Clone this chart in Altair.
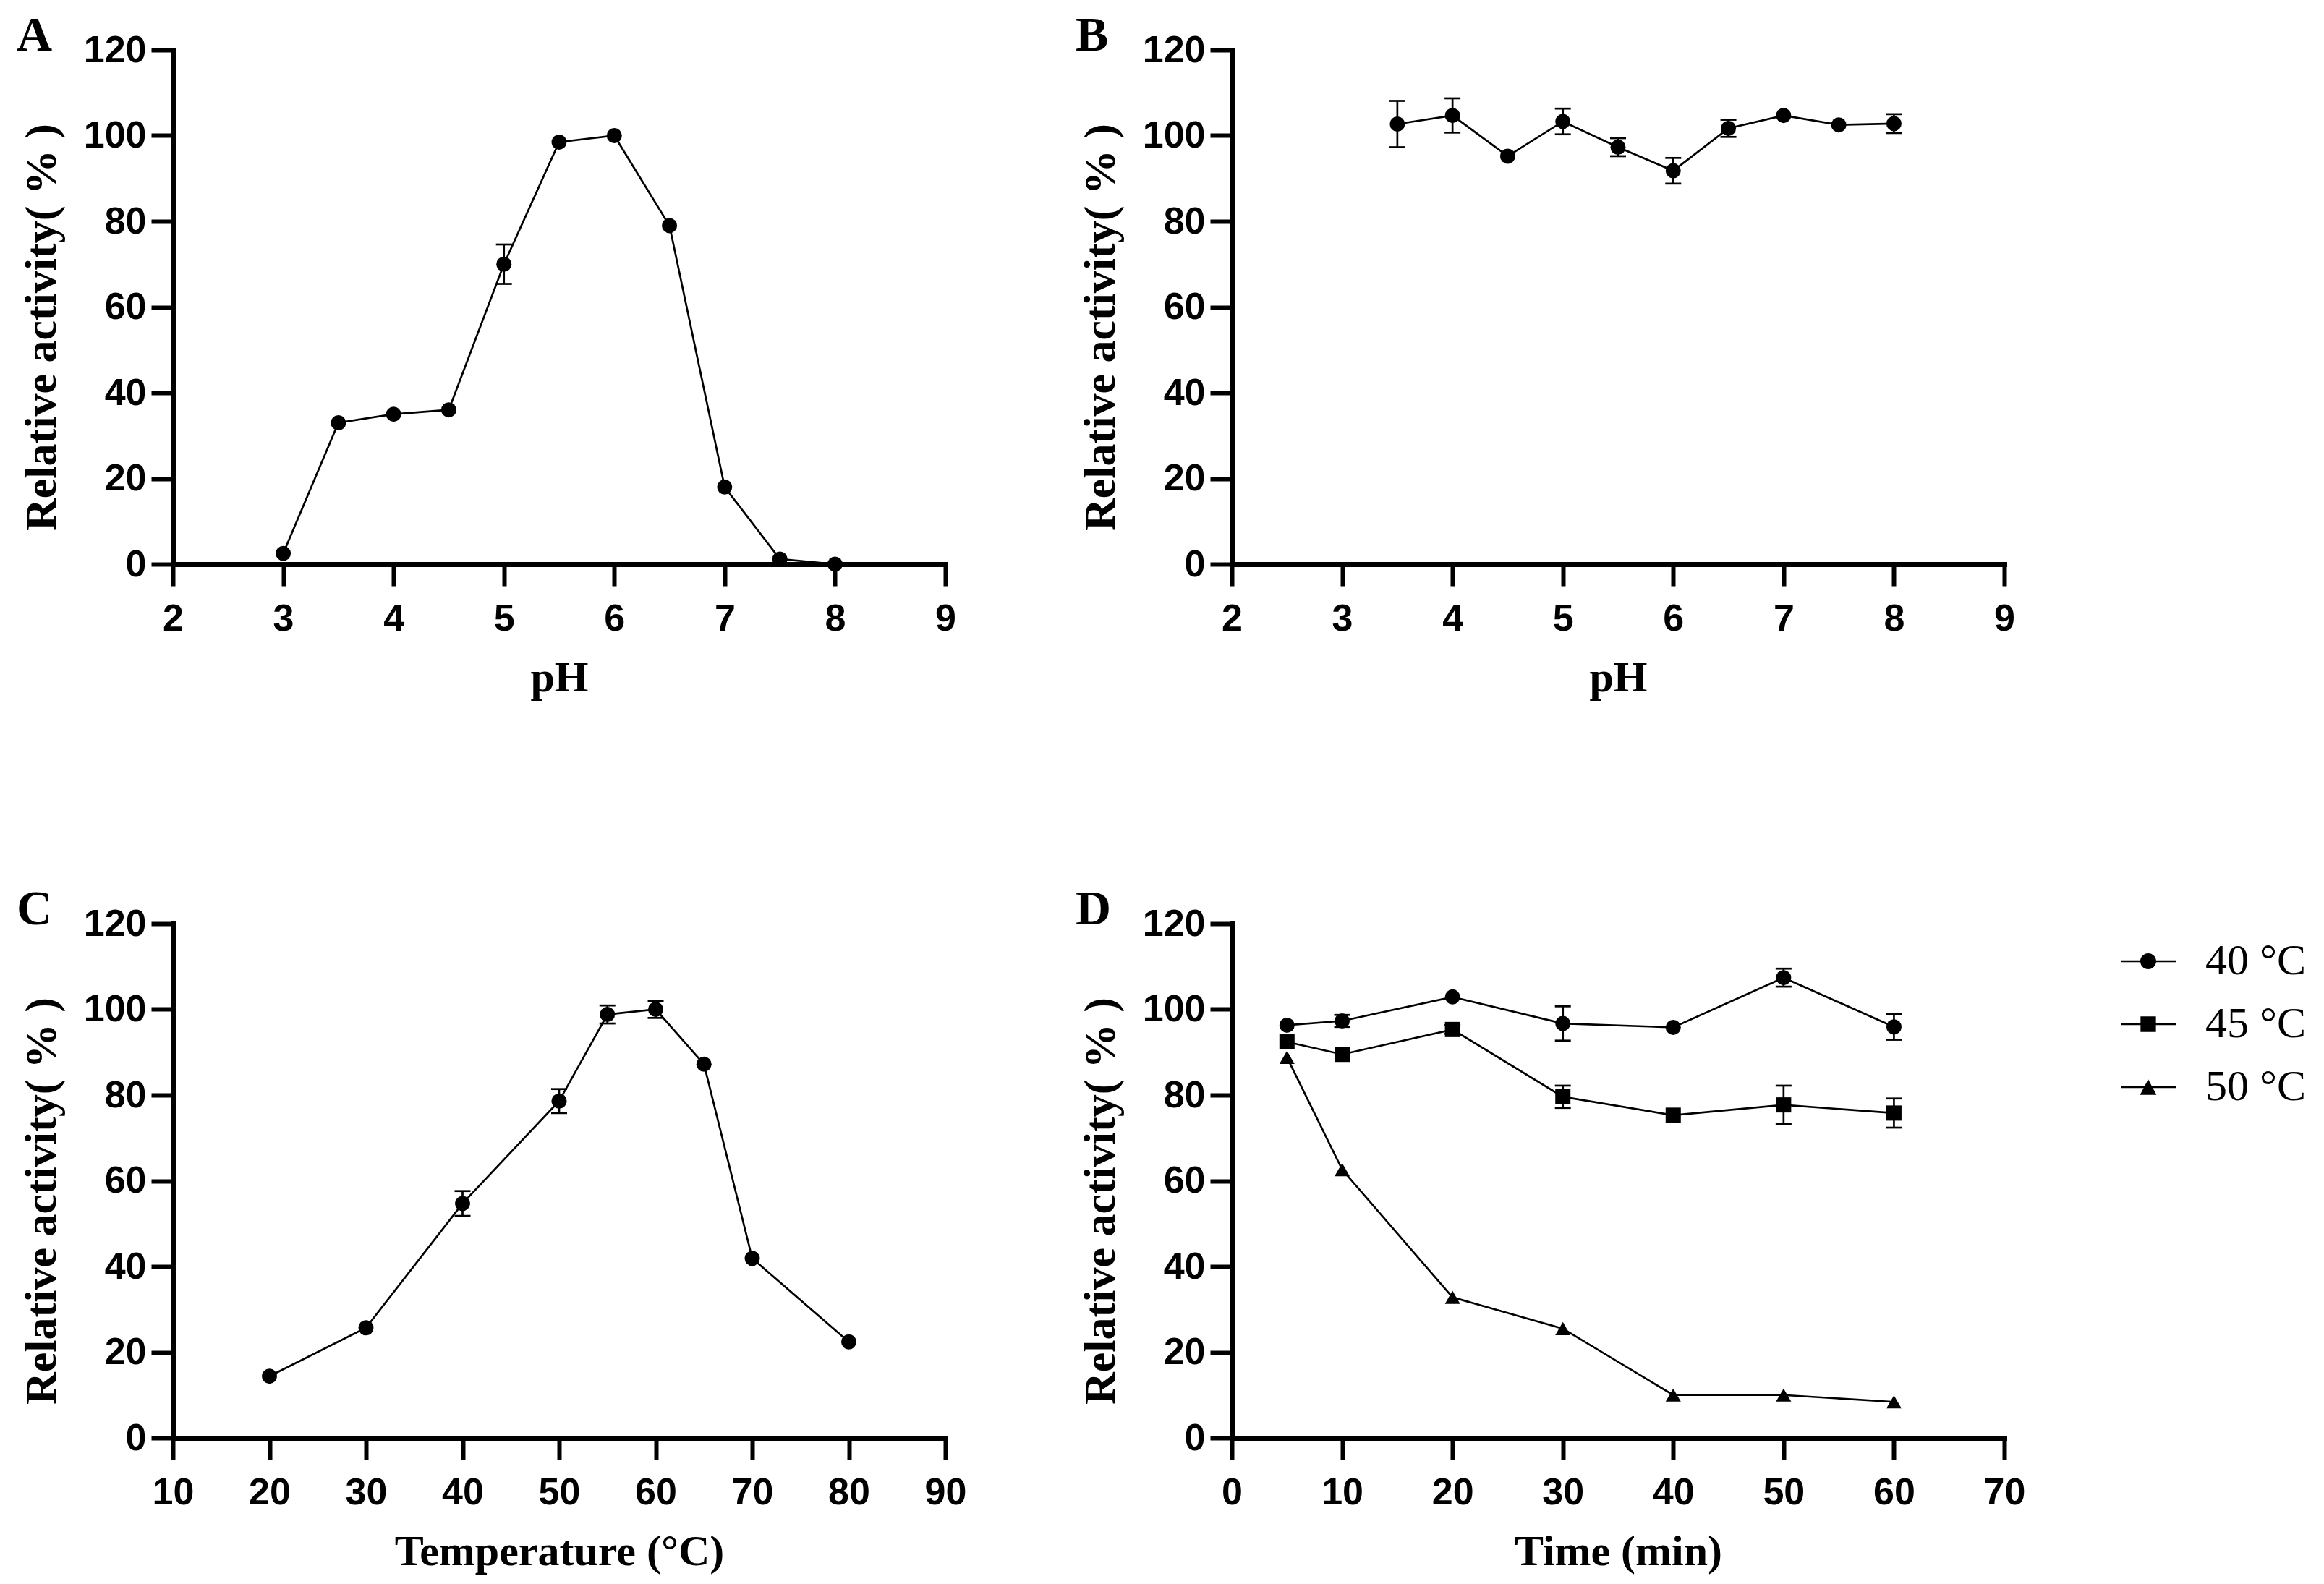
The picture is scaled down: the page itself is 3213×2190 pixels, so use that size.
import altair as alt
import pandas as pd

# ---------------- data ----------------
A_pH = [3, 3.5, 4, 4.5, 5, 5.5, 6, 6.5, 7, 7.5, 8]
A_act = [2.5, 33.0, 35.0, 36.0, 70.0, 98.5, 100.0, 79.0, 18.0, 1.2, 0.0]
A_err = [0, 0, 0, 0, 4.6, 0, 0, 0, 0, 0, 0]

B_pH = [3.5, 4, 4.5, 5, 5.5, 6, 6.5, 7, 7.5, 8]
B_act = [102.7, 104.7, 95.2, 103.3, 97.3, 91.8, 101.7, 104.7, 102.5, 102.8]
B_err = [5.4, 4.0, 0, 3.0, 2.1, 3.0, 2.0, 0, 0, 2.2]

C_temp = [20, 30, 40, 50, 55, 60, 65, 70, 80]
C_act = [14.4, 25.7, 54.7, 78.6, 98.8, 100.0, 87.2, 41.9, 22.4]
C_err = [0, 0, 2.9, 2.8, 2.1, 2.0, 0, 0, 0]

D_time = [5, 10, 20, 30, 40, 50, 60]
D_series = ["40 °C", "45 °C", "50 °C"]
D_40 = [96.3, 97.3, 102.9, 96.7, 95.8, 107.4, 95.9]
D_40_err = [0, 1.4, 0, 4.0, 0, 2.1, 3.0]
D_45 = [92.4, 89.5, 95.3, 79.6, 75.3, 77.7, 75.8]
D_45_err = [0, 0, 1.0, 2.6, 0, 4.5, 3.4]
D_50 = [88.8, 62.6, 32.8, 25.5, 10.0, 10.0, 8.4]
D_50_err = [0, 0, 0, 0, 0, 0, 0]

pH_ticks = [2, 3, 4, 5, 6, 7, 8, 9]
temp_ticks = [10, 20, 30, 40, 50, 60, 70, 80, 90]
time_ticks = [0, 10, 20, 30, 40, 50, 60, 70]
y_ticks = [0, 20, 40, 60, 80, 100, 120]

Y_TITLE = "Relative activity( % )"

# ---------------- helpers ----------------
W, H = 1068, 711
SANS = "Liberation Sans"
SERIF = "Liberation Serif"


def frame(xs, ys, errs, series):
    rows = []
    for x, y, e in zip(xs, ys, errs):
        rows.append({"x": x, "y": y, "err": e, "lo": y - e, "hi": y + e, "series": series})
    return rows


def x_axis(ticks, title):
    return alt.Axis(values=ticks, format="d", title=title, grid=False,
                    domainColor="black", domainWidth=7, domainCap="square",
                    tickColor="black", tickWidth=6, tickSize=30,
                    labelFont=SANS, labelFontWeight="bold", labelFontSize=52,
                    labelColor="black", labelPadding=20, labelFlush=False,
                    labelOverlap=False,
                    titleFont=SERIF, titleFontWeight="bold", titleFontSize=60,
                    titleColor="black", titleY=175, titleBaseline="alphabetic")


def y_axis():
    return alt.Axis(values=y_ticks, format="d", title=Y_TITLE, grid=False,
                    domainColor="black", domainWidth=7, domainCap="square",
                    tickColor="black", tickWidth=6, tickSize=30,
                    labelFont=SANS, labelFontWeight="bold", labelFontSize=52,
                    labelColor="black", labelPadding=7, labelFlush=False,
                    labelOverlap=False,
                    titleFont=SERIF, titleFontWeight="bold", titleFontSize=62,
                    titleColor="black", titleAngle=270, titleX=-163, titleY=383,
                    titleAlign="center", titleBaseline="alphabetic")


def panel(rows, xdomain, ticks, xtitle, letter, shape_domain, shape_range, legend_layer=None):
    df = pd.DataFrame(rows)
    err_df = df[df["err"] > 0]
    xs = alt.Scale(domain=xdomain, nice=False, zero=False)
    ys = alt.Scale(domain=[0, 120], nice=False, zero=True)
    X = alt.X("x:Q", scale=xs, axis=x_axis(ticks, xtitle))
    Y = alt.Y("y:Q", scale=ys, axis=y_axis())

    line = alt.Chart(df).mark_line(color="black", strokeWidth=2.7).encode(
        x=X, y=Y, detail="series:N", order="x:Q")
    pts = alt.Chart(df).mark_point(filled=True, color="black", opacity=1, size=441,
                                   strokeWidth=0).encode(
        x=X, y=Y,
        shape=alt.Shape("series:N", scale=alt.Scale(domain=shape_domain, range=shape_range),
                        legend=None))
    bars = alt.Chart(err_df).mark_rule(color="black", strokeWidth=2.7).encode(
        x=X, y=alt.Y("lo:Q", scale=ys, axis=y_axis()), y2="hi:Q")
    cap_lo = alt.Chart(err_df).mark_tick(color="black", orient="horizontal", size=22,
                                         thickness=2.7, opacity=1).encode(
        x=X, y=alt.Y("lo:Q", scale=ys, axis=y_axis()))
    cap_hi = alt.Chart(err_df).mark_tick(color="black", orient="horizontal", size=22,
                                         thickness=2.7, opacity=1).encode(
        x=X, y=alt.Y("hi:Q", scale=ys, axis=y_axis()))
    lab = alt.Chart(pd.DataFrame({"t": [letter]})).mark_text(
        align="left", baseline="alphabetic", font=SERIF, fontWeight="bold",
        fontSize=68, color="black").encode(
        x=alt.value(-216), y=alt.value(1), text="t:N")

    layers = [bars, cap_lo, cap_hi, line, pts, lab]
    if legend_layer is not None:
        layers.append(legend_layer)
    ch = alt.layer(*layers).properties(width=W, height=H)
    if legend_layer is not None:
        ch = ch.resolve_scale(shape="independent")
    return ch


rowsA = frame(A_pH, A_act, A_err, "A")
rowsB = frame(B_pH, B_act, B_err, "B")
rowsC = frame(C_temp, C_act, C_err, "C")
rowsD = (frame(D_time, D_40, D_40_err, D_series[0])
         + frame(D_time, D_45, D_45_err, D_series[1])
         + frame(D_time, D_50, D_50_err, D_series[2]))

# legend symbols (fill only): a thin bar for the line with the marker on it
BAR = "M-1,-0.036L1,-0.036L1,0.036L-1,0.036Z"
legend_paths = [
    BAR + "M-0.29,0A0.29,0.29,0,1,1,0.29,0A0.29,0.29,0,1,1,-0.29,0Z",
    BAR + "M-0.28,-0.28L0.28,-0.28L0.28,0.28L-0.28,0.28Z",
    BAR + "M0,-0.28L0.3,0.28L-0.3,0.28Z",
]
legend_layer = alt.Chart(pd.DataFrame(rowsD)).transform_filter("false").mark_point(
    filled=True, color="black", strokeWidth=0, size=5776, opacity=1
).encode(
    shape=alt.Shape("series:N",
                    scale=alt.Scale(domain=D_series, range=legend_paths),
                    legend=alt.Legend(orient="none", legendX=1229, legendY=14, title=None,
                                      symbolSize=5776, symbolStrokeWidth=0,
                                      symbolFillColor="black",
                                      symbolOpacity=1, labelFont=SERIF, labelFontSize=60,
                                      labelColor="black", labelOffset=41, rowPadding=19,
                                      padding=0, labelLimit=0))
)

pA = panel(rowsA, [2, 9], pH_ticks, "pH", "A", ["A"], ["circle"])
pB = panel(rowsB, [2, 9], pH_ticks, "pH", "B", ["B"], ["circle"])
pC = panel(rowsC, [10, 90], temp_ticks, "Temperature (°C)", "C", ["C"], ["circle"])
pD = panel(rowsD, [0, 70], time_ticks, "Time (min)", "D", D_series,
           ["circle", "square", "triangle-up"], legend_layer)

chart = alt.concat(pA, pB, pC, pD, columns=2,
                   spacing=alt.RowColnumber(row=497, column=396)).properties(
    bounds="flush",
    padding={"left": 15, "top": 8, "right": 5, "bottom": 5},
    background="white",
).configure_view(stroke=None)

chart.save("out.html", embed_options={"renderer": "svg", "actions": False})
